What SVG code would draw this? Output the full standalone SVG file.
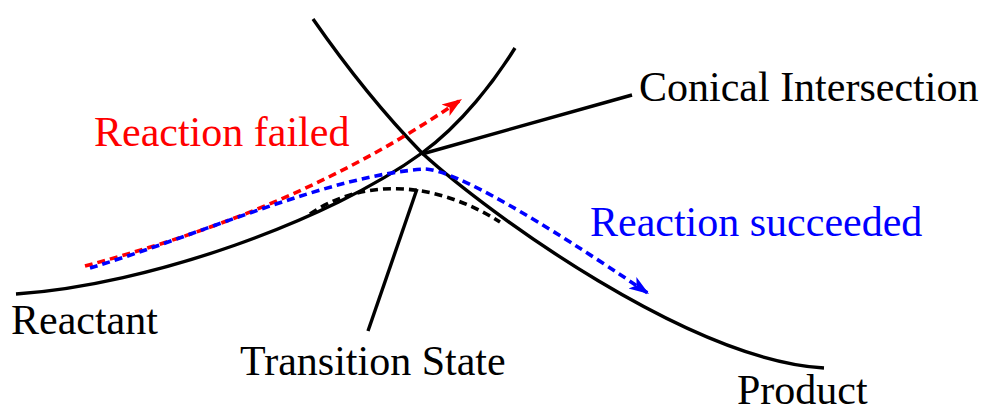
<svg xmlns="http://www.w3.org/2000/svg" width="991" height="408" viewBox="0 0 991 408">
<defs>
<style>
.curve{fill:none;stroke:#000;stroke-width:3.4}
.dash{fill:none;stroke-width:3.6;stroke-dasharray:8 5}
text{font-family:'Liberation Serif','Times New Roman',Times,serif;font-size:42px}
</style>
<marker id="arR" markerUnits="userSpaceOnUse" markerWidth="24" markerHeight="16" viewBox="-20 -8 24 16" refX="0" refY="0" orient="auto">
<path d="M0,0 L-20,-7 L-15,0 L-20,7 Z" fill="#f00"/>
</marker>
<marker id="arB" markerUnits="userSpaceOnUse" markerWidth="24" markerHeight="16" viewBox="-20 -8 24 16" refX="0" refY="0" orient="auto">
<path d="M0,0 L-20,-7 L-15,0 L-20,7 Z" fill="#00f"/>
</marker>
</defs>
<g id="surfaces">
<path id="reactant-surface" class="curve" d="M16,294 C150,285 330,220 422,153 C462,124 495,80 515,48"/>
<path id="product-surface" class="curve" d="M313,19 C345,65 385,115 422,153 C490,215 690,360 824,368"/>
</g>
<g id="connectors">
<path class="curve" d="M422,154 L632,95"/>
<path class="curve" d="M417,189 L368,331"/>
<path class="dash" stroke="#000" d="M310,214 C360,180 430,178 500,222"/>
<path class="dash" stroke="#f00" d="M85,266 C200,235 330,190 462,99" marker-end="url(#arR)"/>
<path class="dash" stroke="#00f" d="M90,268 C200,235 330,175 425,169 C455,170 540,220 649,294" marker-end="url(#arB)"/>
</g>
<g id="label-conical"><text font-family="Liberation Serif, serif" x="639" y="101">Conical Intersection</text></g>
<g id="label-failed"><text font-family="Liberation Serif, serif" x="94" y="146" fill="#f00">Reaction failed</text></g>
<g id="label-succeeded"><text font-family="Liberation Serif, serif" x="590" y="236" fill="#00f">Reaction succeeded</text></g>
<g id="label-reactant"><text font-family="Liberation Serif, serif" x="11" y="334">Reactant</text></g>
<g id="label-ts"><text font-family="Liberation Serif, serif" x="240" y="375">Transition State</text></g>
<g id="label-product"><text font-family="Liberation Serif, serif" x="737" y="404">Product</text></g>
</svg>
